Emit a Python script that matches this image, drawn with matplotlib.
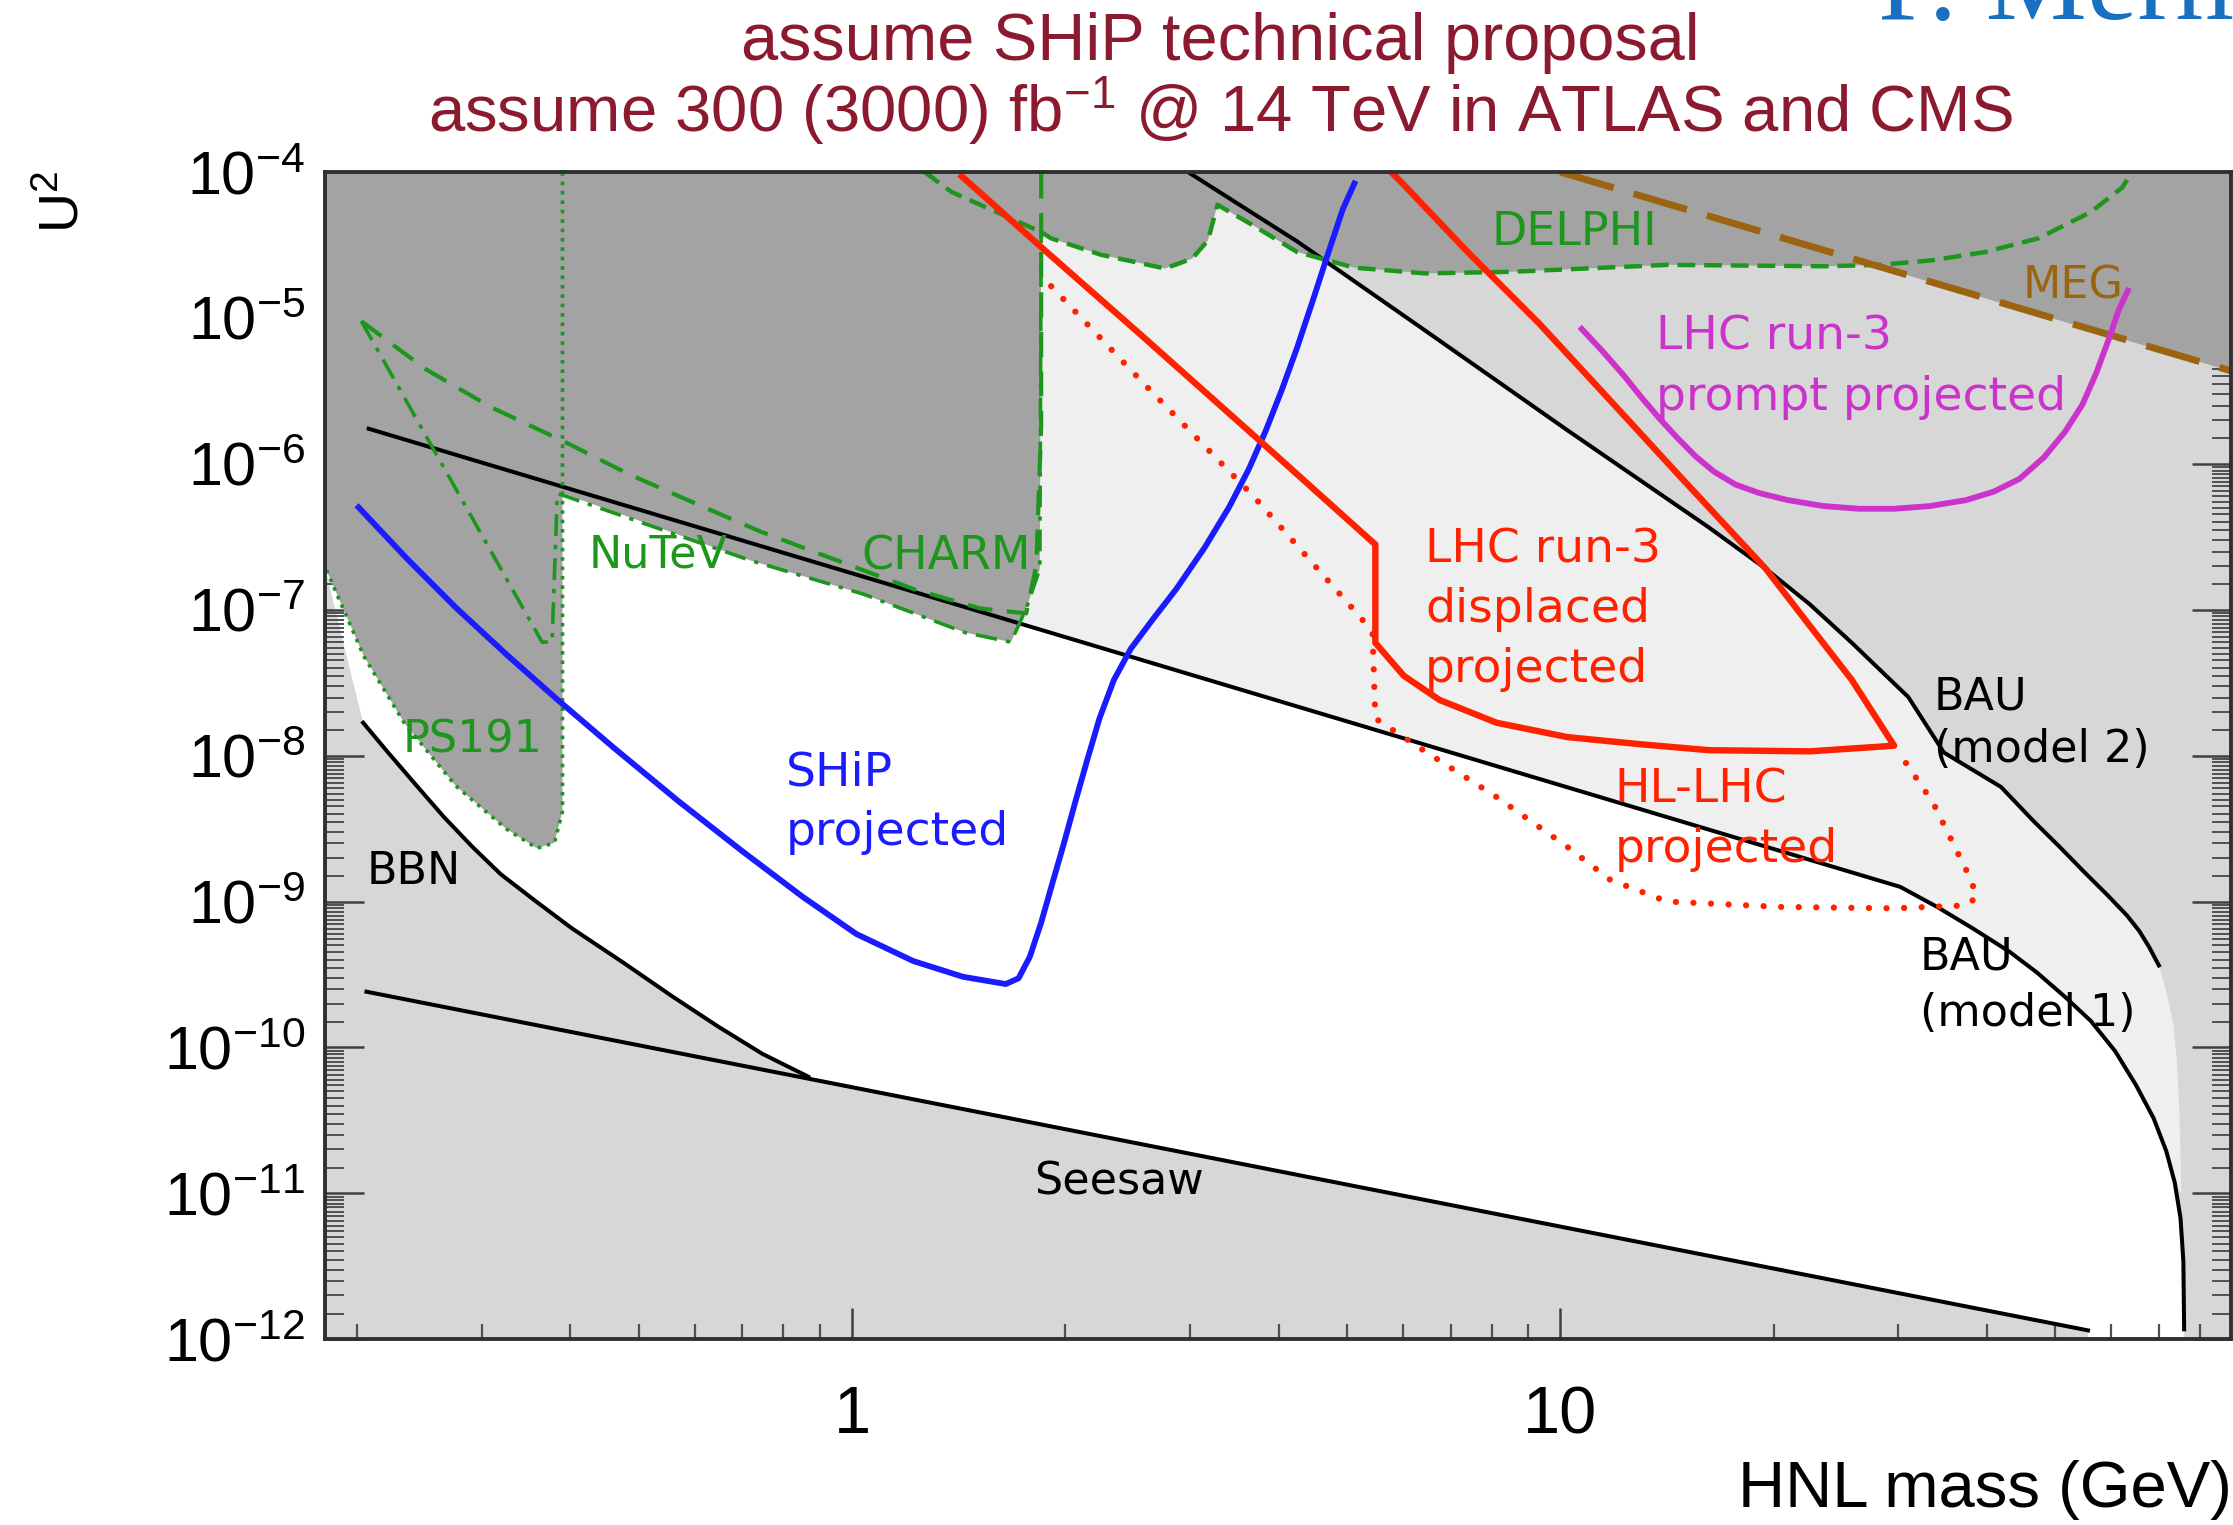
import numpy as np
import matplotlib
matplotlib.use("Agg")
import matplotlib.pyplot as plt
from matplotlib.ticker import LogLocator, FixedLocator, FuncFormatter, NullFormatter

plt.rcParams['font.family'] = ['Liberation Sans', 'DejaVu Sans']
plt.rcParams['mathtext.fontset'] = 'custom'
plt.rcParams['mathtext.rm'] = 'Liberation Sans'
plt.rcParams['mathtext.it'] = 'Liberation Sans:italic'
plt.rcParams['mathtext.bf'] = 'Liberation Sans:bold'

# axis range: HNL mass (GeV) vs mixing U^2
XMIN, XMAX = 0.18, 88.5
YMIN, YMAX = 1e-12, 1e-4

# ---- theory curves ----
seesaw_m = [0.2062, 55.6]
seesaw_u2 = [2.41e-10, 1.15e-12]

bbn_m = [0.204, 0.2205, 0.2417, 0.2653, 0.291, 0.319, 0.358, 0.402, 0.475, 0.558,
         0.647, 0.747, 0.867]
bbn_u2 = [1.68e-8, 1.07e-8, 6.37e-9, 3.79e-9, 2.37e-9, 1.54e-9, 1.0e-9, 6.56e-10,
          3.82e-10, 2.23e-10, 1.39e-10, 9.04e-11, 6.31e-11]

bau1_m = [0.2077, 30.2, 34.05, 38.2, 43.1, 47.1, 51.6, 56.1, 60.7, 65.0, 68.8, 71.7,
          73.7, 75.1, 75.8, 76.0]
bau1_u2 = [1.74e-6, 1.26e-9, 9.18e-10, 6.56e-10, 4.52e-10, 3.26e-10, 2.22e-10,
           1.52e-10, 9.46e-11, 5.51e-11, 3.28e-11, 1.95e-11, 1.19e-11, 6.78e-12,
           3.45e-12, 1.17e-12]

bau2_m = [2.98, 4.26, 6.44, 10.23, 16.2, 19.5, 22.5, 25.8, 31.0, 34.8, 41.9, 46.6,
          50.7, 54.8, 59.3, 63.1, 65.7, 67.8, 70.0]
bau2_u2 = [1e-4, 3.32e-5, 8.21e-6, 1.70e-6, 3.67e-7, 1.91e-7, 1.09e-7, 5.93e-8,
           2.52e-8, 1.05e-8, 6.10e-9, 3.55e-9, 2.37e-9, 1.61e-9, 1.10e-9, 8.03e-10,
           6.27e-10, 4.89e-10, 3.65e-10]
# model-2 band keeps going below the end of its drawn curve
bau2_tail_m = [71.8, 73.4, 74.2, 74.8, 75.3]
bau2_tail_u2 = [2.38e-10, 1.44e-10, 8.14e-11, 4.0e-11, 1.0e-11]

white_edge_m = [0.181, 0.192]
white_edge_u2 = [1.8e-7, 5.5e-8]

# ---- experimental bounds ----
ps191_m = [0.181, 0.2045, 0.2334, 0.2756, 0.325, 0.359, 0.380, 0.390, 0.390]
ps191_u2 = [1.87e-7, 4.79e-8, 1.66e-8, 6.21e-9, 3.14e-9, 2.32e-9, 2.53e-9, 4.16e-9, 1e-4]

nutev_m = [0.2028, 0.365, 0.377, 0.3835, 0.720, 1.037, 1.443, 1.676, 1.761, 1.841, 1.849]
nutev_u2 = [9.5e-6, 6.0e-8, 6.0e-8, 6.28e-7, 2.17e-7, 1.28e-7, 6.98e-8, 6.0e-8,
            1.02e-7, 1.91e-7, 3.88e-5]

charm_m = [0.2028, 0.2495, 0.3093, 0.390, 0.484, 0.610, 0.744, 0.954, 1.224, 1.517,
           1.761, 1.820, 1.849, 1.849]
charm_u2 = [9.5e-6, 4.48e-6, 2.44e-6, 1.44e-6, 8.49e-7, 5.18e-7, 3.42e-7, 2.17e-7,
            1.38e-7, 1.02e-7, 9.44e-8, 2.01e-7, 1.82e-6, 1e-4]

delphi_m = [1.266, 1.382, 1.849, 1.910, 2.246, 2.556, 2.766, 3.02, 3.18, 3.28, 3.67, 4.25,
            5.12, 6.44, 8.51, 14.15, 23.5, 28.3, 33.4, 39.8, 47.3, 56.1, 62.1, 64.2]
delphi_u2 = [1e-4, 7.3e-5, 3.88e-5, 3.51e-5, 2.71e-5, 2.37e-5, 2.18e-5, 2.55e-5, 3.40e-5,
             5.96e-5, 4.35e-5, 2.83e-5, 2.21e-5, 2.02e-5, 2.07e-5, 2.31e-5, 2.26e-5,
             2.31e-5, 2.48e-5, 2.83e-5, 3.51e-5, 5.32e-5, 7.8e-5, 1e-4]

meg_m = [10.0, 89.0]
meg_u2 = [1e-4, 4.3e-6]

# ---- projections ----
ship_m = [0.201, 0.2352, 0.2754, 0.325, 0.384, 0.462, 0.569, 0.700, 0.851, 1.014, 1.220,
          1.434, 1.648, 1.718, 1.782, 1.849, 1.919, 1.992, 2.067, 2.145, 2.235, 2.342,
          2.475, 2.653, 2.870, 3.148, 3.405, 3.634, 3.840, 4.041, 4.25, 4.473, 4.707,
          4.93, 5.12]
ship_u2 = [5.03e-7, 2.24e-7, 1.04e-7, 4.94e-8, 2.41e-8, 1.12e-8, 4.86e-9, 2.21e-9,
           1.08e-9, 5.99e-10, 3.91e-10, 3.05e-10, 2.72e-10, 2.98e-10, 4.18e-10,
           7.18e-10, 1.35e-9, 2.53e-9, 4.86e-9, 9.14e-9, 1.80e-8, 3.30e-8, 5.41e-8,
           8.49e-8, 1.39e-7, 2.68e-7, 5.03e-7, 9.25e-7, 1.70e-6, 3.19e-6, 6.27e-6,
           1.32e-5, 2.83e-5, 5.57e-5, 8.35e-5]

run3_disp_m = [1.428, 1.892, 2.556, 3.70, 5.48, 5.48, 6.01, 6.75, 8.13, 10.23, 12.9, 16.2,
               22.5, 29.6, 25.8, 22.5, 19.5, 14.8, 11.76, 9.33, 7.40, 5.96, 5.77]
run3_disp_u2 = [9.35e-5, 2.77e-5, 7.67e-6, 1.55e-6, 2.80e-7, 5.93e-8, 3.53e-8, 2.41e-8,
                1.68e-8, 1.34e-8, 1.20e-8, 1.09e-8, 1.07e-8, 1.17e-8, 3.30e-8, 7.77e-8,
                1.91e-7, 8.07e-7, 2.72e-6, 9.18e-6, 2.83e-5, 8.54e-5, 1e-4]

hllhc_m = [1.910, 2.556, 3.70, 5.24, 5.43, 5.48, 6.44, 8.13, 10.23, 11.76, 14.15, 20.5,
           29.6, 37.4, 38.8, 37.5, 33.6, 29.9]
hllhc_u2 = [1.65e-5, 3.73e-6, 5.89e-7, 8.69e-8, 6.93e-8, 1.80e-8, 1.07e-8, 5.20e-9,
            2.37e-9, 1.41e-9, 1.0e-9, 9.18e-10, 8.99e-10, 9.4e-10, 1.08e-9, 1.61e-9,
            4.75e-9, 1.09e-8]

prompt_m = [10.72, 11.49, 12.31, 13.02, 13.82, 14.68, 15.51, 16.48, 17.66, 19.10, 20.96,
            23.5, 26.4, 29.6, 33.3, 37.4, 40.9, 44.5, 48.2, 51.6, 54.6, 57.1, 59.6,
            61.5, 63.3]
prompt_u2 = [8.40e-6, 5.86e-6, 4.0e-6, 2.85e-6, 2.03e-6, 1.48e-6, 1.13e-6, 8.84e-7,
             7.22e-7, 6.30e-7, 5.64e-7, 5.14e-7, 4.92e-7, 4.92e-7, 5.14e-7, 5.64e-7,
             6.44e-7, 7.89e-7, 1.11e-6, 1.66e-6, 2.55e-6, 4.18e-6, 7.34e-6, 1.15e-5,
             1.54e-5]

# colours
DARK = '#a3a3a3'
LIGHT = '#d7d7d7'
VLIGHT = '#efefef'
GREEN = '#1c961c'
RED = '#ff2200'
BLUE = '#1b1bff'
MAGENTA = '#cc33cc'
BROWN = '#9c6410'
TITLE = '#8b1a2e'

fig = plt.figure(figsize=(22.33, 15.25), dpi=100)
ax = fig.add_axes([0.1454, 0.1218, 0.8537, 0.7654])
ax.set_xscale('log')
ax.set_yscale('log')
ax.set_xlim(XMIN, XMAX)
ax.set_ylim(YMIN, YMAX)
ax.set_facecolor(LIGHT)

# band between the BAU curves
cut = bau2_tail_u2[-1]
b1_upper = [(m, u) for m, u in zip(bau1_m, bau1_u2) if u > cut]
band_m = [XMIN] + bau2_m + bau2_tail_m + [m for m, u in b1_upper[::-1]] + [XMIN]
band_u2 = [YMAX] + bau2_u2 + bau2_tail_u2 + [u for m, u in b1_upper[::-1]] + [bau1_u2[0]]
ax.fill(band_m, band_u2, color=VLIGHT, lw=0, zorder=1)

# allowed region below BAU model 1
wh_m = [XMIN] + bau1_m + [bau1_m[-1], seesaw_m[-1], seesaw_m[-1]] + bbn_m[::-1] + white_edge_m[::-1]
wh_u2 = [bau1_u2[0]] + bau1_u2 + [YMIN, YMIN, seesaw_u2[-1]] + bbn_u2[::-1] + white_edge_u2[::-1]
ax.fill(wh_m, wh_u2, color='white', lw=0, zorder=1.5)

# excluded by experiments
dk_m = [XMIN] + ps191_m[:-1] + [ps191_m[-1]] + nutev_m[4:] + delphi_m[3:] + [XMIN]
dk_u2 = [YMAX] + ps191_u2[:-1] + [nutev_u2[3]] + nutev_u2[4:] + delphi_u2[3:] + [YMAX]
ax.fill(dk_m, dk_u2, color=DARK, lw=0, zorder=2)
ax.fill_between(meg_m, meg_u2, YMAX, color=DARK, lw=0, zorder=2)

# black theory lines
kw = dict(color='black', lw=2.9, zorder=4, solid_joinstyle='round')
ax.plot(seesaw_m, seesaw_u2, **kw)
ax.plot(bbn_m, bbn_u2, **kw)
ax.plot(bau1_m, bau1_u2, **kw)
ax.plot(bau2_m, bau2_u2, **kw)

# experimental bounds
ax.plot(ps191_m, ps191_u2, color=GREEN, lw=2.6, ls=(0, (1, 1.6)), zorder=5)
ax.plot(nutev_m, nutev_u2, color=GREEN, lw=2.6, ls=(0, (6, 2.5, 1.2, 2.5)), zorder=5)
ax.plot(charm_m, charm_u2, color=GREEN, lw=3.0, ls=(0, (6, 3.5)), zorder=5)
ax.plot(delphi_m, delphi_u2, color=GREEN, lw=3.2, ls=(0, (4, 2)), zorder=5)
ax.plot(meg_m, meg_u2, color=BROWN, lw=5, ls=(0, (8, 3)), zorder=5)

# projections
ax.plot(ship_m, ship_u2, color=BLUE, lw=4.2, zorder=6, solid_joinstyle='round')
ax.plot(hllhc_m, hllhc_u2, color=RED, lw=4.5, ls=(0, (0.01, 2.8)),
        dash_capstyle='round', zorder=6)
ax.plot(run3_disp_m, run3_disp_u2, color=RED, lw=4.6, zorder=6, solid_joinstyle='round')
ax.plot(prompt_m, prompt_u2, color=MAGENTA, lw=4.2, zorder=6, solid_joinstyle='round')


def label(x, y, lines, color, size=32, step=43):
    for i, s in enumerate(lines):
        ax.annotate(s, (x, y), xytext=(0, -i * step), textcoords='offset points',
                    color=color, fontsize=size, family='DejaVu Sans',
                    ha='left', va='center', zorder=8)


label(0.425, 2.39e-7, ['NuTeV'], GREEN)
label(1.03, 2.29e-7, ['CHARM'], GREEN, size=33)
label(0.232, 1.28e-8, ['PS191'], GREEN)
label(8.0, 3.84e-5, ['DELPHI'], GREEN, size=33)
label(44.9, 1.65e-5, ['MEG'], BROWN)
label(13.63, 7.35e-6, ['LHC run-3', 'prompt projected'], MAGENTA, size=34)
label(6.44, 2.56e-7, ['LHC run-3', 'displaced', 'projected'], RED, size=34)
label(11.92, 5.82e-9, ['HL-LHC', 'projected'], RED, size=34)
label(0.805, 7.64e-9, ['SHiP', 'projected'], BLUE, size=34)
label(0.206, 1.61e-9, ['BBN'], 'black')
label(1.807, 1.19e-11, ['Seesaw'], 'black')
label(33.7, 2.52e-8, ['BAU', '(model 2)'], 'black', step=38)
label(32.2, 4.18e-10, ['BAU', '(model 1)'], 'black', step=41)

# axes, ticks
for sp in ax.spines.values():
    sp.set_linewidth(2.8)
    sp.set_color('#303030')
    sp.set_zorder(10)

ax.xaxis.set_major_locator(FixedLocator([1, 10]))
ax.xaxis.set_minor_locator(LogLocator(base=10, subs=np.arange(2, 10), numticks=30))
ax.xaxis.set_major_formatter(FuncFormatter(lambda v, _: '%g' % v))
ax.xaxis.set_minor_formatter(NullFormatter())
ax.yaxis.set_major_locator(LogLocator(base=10, numticks=30))
ax.yaxis.set_minor_locator(LogLocator(base=10, subs=np.arange(1.5, 10, 0.5), numticks=30))
ax.yaxis.set_major_formatter(FuncFormatter(
    lambda v, _: r'$\mathregular{10^{%d}}$' % round(np.log10(v))))
ax.yaxis.set_minor_formatter(NullFormatter())

ax.tick_params(which='both', direction='in', top=True, right=True, zorder=9)
ax.tick_params(axis='x', which='major', length=22, width=1.8, color='#404040',
               labelsize=48, pad=33)
ax.tick_params(axis='x', which='minor', length=11, width=1.6, color='#505050')
ax.tick_params(axis='y', which='major', length=28, width=1.8, color='#404040',
               labelsize=44, pad=14)
ax.tick_params(axis='y', which='minor', length=14, width=1.4, color='#505050')

# titles and axis labels
fig.text(0.5466, 0.972, 'assume SHiP technical proposal', color=TITLE,
         fontsize=48, ha='center', va='center')
fig.text(0.5466, 0.927, r'assume 300 (3000) fb$^{\mathregular{-1}}$ @ 14 TeV in ATLAS and CMS',
         color=TITLE, fontsize=47, ha='center', va='center')
fig.text(0.841, 0.9875, 'P. Mermod', color='#1a70c0', fontsize=82,
         family='Liberation Serif', ha='left', va='baseline')
fig.text(0.0287, 0.8675, r'$\mathregular{U^2}$', rotation=90, fontsize=40,
         ha='center', va='center')
fig.text(0.9995, 0.012, 'HNL mass (GeV)', fontsize=47, ha='right', va='baseline')

fig.savefig('out.png', dpi=100)
